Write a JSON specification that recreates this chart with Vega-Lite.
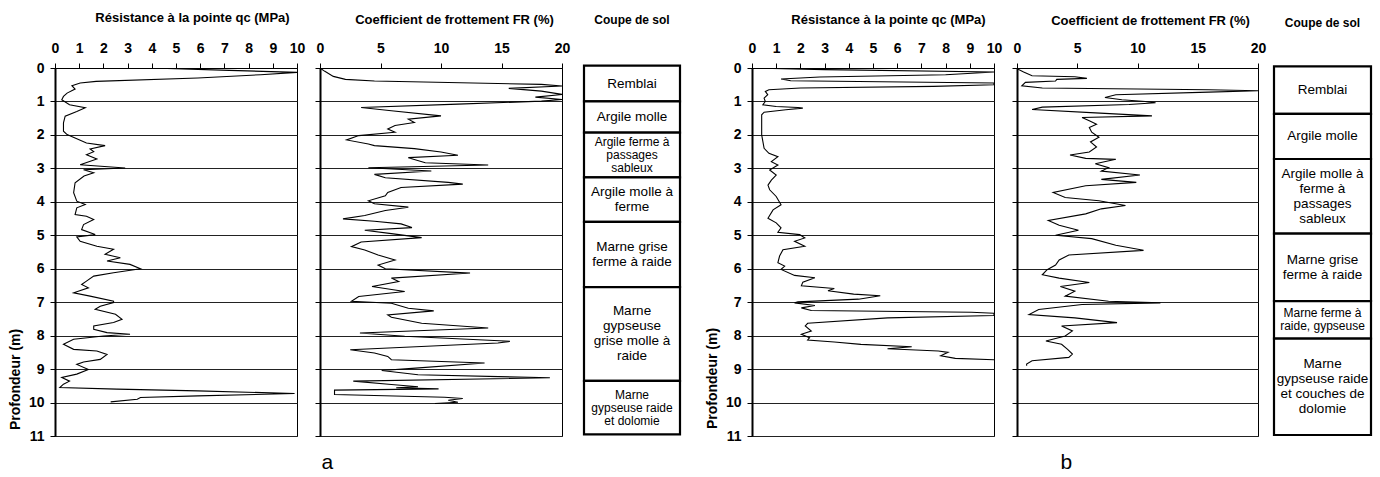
{
  "$schema": "https://vega.github.io/schema/vega-lite/v6.json",
  "background": "white",
  "padding": {"left": 7, "top": 10, "right": 2, "bottom": 2},
  "config": {
    "font": "Liberation Sans",
    "view": {"stroke": "black", "strokeWidth": 1},
    "axis": {"labelFont": "Liberation Sans", "labelFontWeight": "bold", "labelFontSize": 14, "labelColor": "black", "labelFlush": false, "labelOverlap": false, "tickColor": "black", "domainColor": "black", "titleColor": "black", "titleFont": "Liberation Sans", "titleFontWeight": "bold", "titleFontSize": 13, "tickSize": 5},
    "title": {"font": "Liberation Sans", "color": "black"}
  },
  "datasets": {
    "qcA": [
      {"d":0,"v":4.0},{"d":0.07,"v":7.2},{"d":0.13,"v":10},{"d":0.2,"v":8.5},{"d":0.3,"v":5.9},{"d":0.4,"v":1.7},{"d":0.45,"v":1.04},{"d":0.53,"v":0.7},{"d":0.63,"v":0.83},{"d":0.75,"v":0.5},{"d":0.85,"v":0.35},{"d":0.95,"v":0.28},{"d":1.1,"v":0.6},{"d":1.19,"v":1.25},{"d":1.3,"v":0.9},{"d":1.44,"v":0.42},{"d":1.64,"v":0.35},{"d":1.89,"v":0.35},{"d":1.99,"v":0.5},{"d":2.09,"v":0.83},{"d":2.24,"v":1.3},{"d":2.32,"v":2.07},{"d":2.42,"v":1.45},{"d":2.5,"v":1.6},{"d":2.59,"v":1.3},{"d":2.72,"v":1.73},{"d":2.89,"v":1.04},{"d":2.99,"v":2.9},{"d":3.04,"v":1.18},{"d":3.13,"v":1.6},{"d":3.23,"v":1.2},{"d":3.43,"v":0.83},{"d":3.73,"v":0.77},{"d":3.98,"v":0.9},{"d":4.08,"v":1.25},{"d":4.18,"v":0.9},{"d":4.38,"v":0.83},{"d":4.43,"v":1.3},{"d":4.53,"v":1.6},{"d":4.68,"v":1.18},{"d":4.83,"v":1.1},{"d":4.98,"v":1.66},{"d":5.05,"v":0.9},{"d":5.18,"v":1.04},{"d":5.33,"v":1.73},{"d":5.42,"v":2.42},{"d":5.57,"v":2.07},{"d":5.67,"v":2.7},{"d":5.77,"v":2.15},{"d":5.87,"v":3.1},{"d":6.0,"v":3.53},{"d":6.12,"v":2.42},{"d":6.22,"v":1.6},{"d":6.37,"v":1.3},{"d":6.47,"v":1.1},{"d":6.57,"v":1.38},{"d":6.72,"v":0.77},{"d":6.82,"v":1.45},{"d":6.97,"v":2.42},{"d":7.01,"v":2.42},{"d":7.12,"v":1.87},{"d":7.21,"v":1.66},{"d":7.36,"v":2.5},{"d":7.51,"v":2.77},{"d":7.61,"v":2.42},{"d":7.71,"v":1.6},{"d":7.81,"v":1.6},{"d":7.91,"v":2.15},{"d":7.96,"v":3.1},{"d":8.01,"v":2.0},{"d":8.11,"v":0.77},{"d":8.26,"v":0.35},{"d":8.41,"v":0.77},{"d":8.46,"v":1.73},{"d":8.56,"v":2.15},{"d":8.71,"v":1.87},{"d":8.79,"v":1.18},{"d":8.86,"v":0.9},{"d":9.01,"v":1.38},{"d":9.15,"v":0.9},{"d":9.25,"v":0.28},{"d":9.36,"v":0.6},{"d":9.45,"v":0.35},{"d":9.55,"v":0.2},{"d":9.6,"v":2.56},{"d":9.65,"v":5.9},{"d":9.73,"v":9.9},{"d":9.8,"v":5.9},{"d":9.85,"v":3.53},{"d":9.9,"v":3.4},{"d":9.98,"v":2.3}
    ],
    "frA": [
      {"d":0,"v":0},{"d":0.1,"v":0.4},{"d":0.25,"v":1.1},{"d":0.34,"v":2.1},{"d":0.39,"v":4.5},{"d":0.49,"v":18.3},{"d":0.54,"v":20},{"d":0.61,"v":15.6},{"d":0.69,"v":18.3},{"d":0.79,"v":20},{"d":0.87,"v":17.8},{"d":0.94,"v":20},{"d":0.99,"v":18.3},{"d":1.08,"v":11.4},{"d":1.18,"v":3.4},{"d":1.28,"v":5.9},{"d":1.43,"v":10},{"d":1.53,"v":7.3},{"d":1.63,"v":7.8},{"d":1.72,"v":6.2},{"d":1.82,"v":5.6},{"d":1.92,"v":6.2},{"d":2.02,"v":3.2},{"d":2.15,"v":2.2},{"d":2.27,"v":4},{"d":2.32,"v":4.5},{"d":2.41,"v":7.8},{"d":2.51,"v":10},{"d":2.61,"v":11.4},{"d":2.68,"v":7.3},{"d":2.83,"v":8.7},{"d":2.9,"v":13.9},{"d":2.98,"v":4},{"d":3.08,"v":9.2},{"d":3.18,"v":4.5},{"d":3.28,"v":5.4},{"d":3.42,"v":10.6},{"d":3.47,"v":11.8},{"d":3.57,"v":6.7},{"d":3.72,"v":5.6},{"d":3.82,"v":5.4},{"d":3.97,"v":4},{"d":4.06,"v":4.5},{"d":4.16,"v":7.3},{"d":4.26,"v":5.4},{"d":4.41,"v":3.7},{"d":4.51,"v":1.9},{"d":4.58,"v":4.5},{"d":4.66,"v":6.7},{"d":4.77,"v":7.6},{"d":4.85,"v":3.7},{"d":4.95,"v":5.9},{"d":5.07,"v":8.4},{"d":5.2,"v":3.4},{"d":5.34,"v":2.6},{"d":5.44,"v":3.7},{"d":5.59,"v":4.8},{"d":5.74,"v":6.2},{"d":5.89,"v":4.8},{"d":6.0,"v":5.4},{"d":6.13,"v":12.4},{"d":6.28,"v":5.9},{"d":6.38,"v":6.5},{"d":6.53,"v":4.3},{"d":6.68,"v":7.0},{"d":6.83,"v":3.2},{"d":6.97,"v":2.6},{"d":7.03,"v":5.9},{"d":7.18,"v":7.3},{"d":7.26,"v":9.4},{"d":7.38,"v":5.6},{"d":7.45,"v":5.9},{"d":7.63,"v":8.4},{"d":7.77,"v":13.9},{"d":7.92,"v":3.3},{"d":8.02,"v":7.0},{"d":8.17,"v":15.7},{"d":8.22,"v":14.7},{"d":8.42,"v":2.5},{"d":8.52,"v":4.5},{"d":8.62,"v":5.6},{"d":8.72,"v":5.9},{"d":8.82,"v":13.6},{"d":8.97,"v":7.9},{"d":9.04,"v":5.1},{"d":9.17,"v":8.1},{"d":9.26,"v":19},{"d":9.36,"v":2.75},{"d":9.46,"v":5.9},{"d":9.53,"v":8.1},{"d":9.56,"v":6.3},{"d":9.59,"v":9.8},{"d":9.63,"v":1.2},{"d":9.76,"v":1.2},{"d":9.84,"v":10.3},{"d":9.88,"v":11.8},{"d":9.93,"v":10.6},{"d":9.99,"v":11.4},{"d":10.03,"v":9.5}
    ],
    "qcB": [
      {"d":0,"v":0},{"d":0.05,"v":3.0},{"d":0.12,"v":10},{"d":0.2,"v":8},{"d":0.27,"v":2.8},{"d":0.33,"v":1.2},{"d":0.38,"v":1.6},{"d":0.45,"v":10},{"d":0.5,"v":10},{"d":0.55,"v":7.5},{"d":0.6,"v":2.0},{"d":0.65,"v":0.7},{"d":0.7,"v":0.55},{"d":0.8,"v":0.65},{"d":0.9,"v":0.5},{"d":1.0,"v":0.55},{"d":1.1,"v":0.45},{"d":1.15,"v":1.0},{"d":1.18,"v":1.9},{"d":1.2,"v":2.1},{"d":1.25,"v":1.4},{"d":1.32,"v":0.5},{"d":1.4,"v":0.4},{"d":1.6,"v":0.4},{"d":2.0,"v":0.4},{"d":2.4,"v":0.5},{"d":2.55,"v":0.7},{"d":2.65,"v":1.07},{"d":2.8,"v":0.8},{"d":2.9,"v":1.07},{"d":3.05,"v":0.73},{"d":3.2,"v":1.0},{"d":3.35,"v":0.8},{"d":3.5,"v":0.66},{"d":3.64,"v":0.73},{"d":3.84,"v":1.0},{"d":4.09,"v":1.2},{"d":4.24,"v":0.87},{"d":4.49,"v":0.66},{"d":4.63,"v":1.0},{"d":4.78,"v":1.2},{"d":4.91,"v":1.07},{"d":4.98,"v":1.97},{"d":5.08,"v":2.18},{"d":5.18,"v":1.76},{"d":5.33,"v":2.18},{"d":5.43,"v":1.28},{"d":5.62,"v":1.14},{"d":5.82,"v":1.07},{"d":5.92,"v":1.35},{"d":6.02,"v":1.2},{"d":6.2,"v":1.76},{"d":6.27,"v":2.6},{"d":6.4,"v":2.1},{"d":6.51,"v":2.04},{"d":6.59,"v":3.4},{"d":6.66,"v":3.14},{"d":6.76,"v":4.2},{"d":6.81,"v":5.3},{"d":6.91,"v":4.4},{"d":6.99,"v":1.9},{"d":7.02,"v":1.76},{"d":7.1,"v":2.6},{"d":7.17,"v":2.04},{"d":7.25,"v":2.45},{"d":7.3,"v":9.06},{"d":7.33,"v":10},{"d":7.4,"v":10},{"d":7.47,"v":5.6},{"d":7.63,"v":2.3},{"d":7.71,"v":2.2},{"d":7.86,"v":2.45},{"d":7.96,"v":2.04},{"d":8.06,"v":2.38},{"d":8.13,"v":2.3},{"d":8.19,"v":3.4},{"d":8.26,"v":4.5},{"d":8.33,"v":6.6},{"d":8.39,"v":5.6},{"d":8.46,"v":7.7},{"d":8.5,"v":8.1},{"d":8.6,"v":7.8},{"d":8.68,"v":8.4},{"d":8.72,"v":10}
    ],
    "frB": [
      {"d":0.02,"v":0},{"d":0.12,"v":0.55},{"d":0.23,"v":1.25},{"d":0.26,"v":4.8},{"d":0.31,"v":5.8},{"d":0.34,"v":3.3},{"d":0.39,"v":3.2},{"d":0.43,"v":0.7},{"d":0.53,"v":0.4},{"d":0.6,"v":2.1},{"d":0.65,"v":15.9},{"d":0.68,"v":20},{"d":0.72,"v":15.9},{"d":0.8,"v":8.2},{"d":0.88,"v":7.3},{"d":0.95,"v":8.7},{"d":1.0,"v":10.65},{"d":1.04,"v":11.5},{"d":1.09,"v":9.3},{"d":1.17,"v":2.1},{"d":1.24,"v":1.25},{"d":1.34,"v":6.5},{"d":1.43,"v":11.2},{"d":1.48,"v":5.4},{"d":1.58,"v":6.0},{"d":1.68,"v":6.6},{"d":1.78,"v":6.0},{"d":1.92,"v":6.2},{"d":2.07,"v":6.8},{"d":2.21,"v":6.1},{"d":2.36,"v":6.6},{"d":2.51,"v":6.0},{"d":2.6,"v":4.4},{"d":2.7,"v":5.7},{"d":2.73,"v":8.2},{"d":2.86,"v":6.5},{"d":2.98,"v":7.6},{"d":3.08,"v":7.0},{"d":3.2,"v":10.2},{"d":3.33,"v":7.0},{"d":3.42,"v":9.9},{"d":3.52,"v":5.7},{"d":3.72,"v":3.0},{"d":3.87,"v":4.0},{"d":3.97,"v":6.8},{"d":4.11,"v":9.0},{"d":4.21,"v":7.0},{"d":4.36,"v":5.7},{"d":4.56,"v":2.6},{"d":4.7,"v":3.5},{"d":4.85,"v":5.1},{"d":5.0,"v":3.2},{"d":5.1,"v":6.2},{"d":5.3,"v":8.2},{"d":5.45,"v":10.5},{"d":5.59,"v":4.3},{"d":5.74,"v":3.5},{"d":5.89,"v":3.2},{"d":6.03,"v":2.5},{"d":6.18,"v":2.1},{"d":6.28,"v":3.5},{"d":6.41,"v":6.0},{"d":6.53,"v":3.6},{"d":6.67,"v":4.8},{"d":6.82,"v":4.0},{"d":6.97,"v":7.6},{"d":7.02,"v":11.9},{"d":7.07,"v":5.4},{"d":7.22,"v":1.8},{"d":7.37,"v":1.0},{"d":7.47,"v":4.8},{"d":7.61,"v":8.3},{"d":7.71,"v":3.7},{"d":7.86,"v":4.6},{"d":8.01,"v":4.0},{"d":8.16,"v":2.4},{"d":8.26,"v":3.7},{"d":8.41,"v":4.2},{"d":8.55,"v":4.6},{"d":8.65,"v":4.3},{"d":8.75,"v":1.25},{"d":8.85,"v":0.8},{"d":8.9,"v":0.8}
    ],
    "soilA": [
      {"top":-0.07,"bot":1.0,"label":"Remblai"},
      {"top":1.0,"bot":1.93,"label":"Argile molle"},
      {"top":1.93,"bot":3.27,"label":"Argile ferme à\npassages\nsableux"},
      {"top":3.27,"bot":4.6,"label":"Argile molle à\nferme"},
      {"top":4.6,"bot":6.55,"label":"Marne grise\nferme à raide"},
      {"top":6.55,"bot":9.35,"label":"Marne\ngypseuse\ngrise molle à\nraide"},
      {"top":9.35,"bot":10.95,"label":"Marne\ngypseuse raide\net dolomie"}
    ],
    "soilB": [
      {"top":-0.05,"bot":1.37,"label":"Remblai"},
      {"top":1.37,"bot":2.72,"label":"Argile molle"},
      {"top":2.72,"bot":4.95,"label":"Argile molle à\nferme à\npassages\nsableux"},
      {"top":4.95,"bot":6.97,"label":"Marne grise\nferme à raide"},
      {"top":6.97,"bot":8.09,"label":"Marne ferme à\nraide, gypseuse"},
      {"top":8.09,"bot":10.97,"label":"Marne\ngypseuse raide\net couches de\ndolomie"}
    ]
  },
  "hconcat": [
    {
      "title": {"text": "a", "orient": "bottom", "anchor": "middle", "dx": -17, "offset": 8, "fontSize": 21, "fontWeight": "normal"},
      "hconcat": [
        {
          "hconcat": [
            {
              "width": 242, "height": 368,
              "data": {"name": "qcA"},
              "mark": {"type": "line", "color": "black", "strokeWidth": 1.1, "clip": true},
              "encoding": {
                "x": {"field": "v", "type": "quantitative", "scale": {"domain": [0, 10], "nice": false}, "axis": {"orient": "top", "values": [0,1,2,3,4,5,6,7,8,9,10], "grid": false, "labelPadding": 8, "title": "Résistance à la pointe qc (MPa)", "titleX": 137, "titleY": -51, "titleAlign": "center", "titleBaseline": "middle"}},
                "y": {"field": "d", "type": "quantitative", "scale": {"domain": [0, 11], "reverse": true, "nice": false}, "axis": {"values": [0,1,2,3,4,5,6,7,8,9,10,11], "grid": true, "gridColor": "#222", "domainWidth": 2, "labelPadding": 6, "title": "Profondeur (m)", "titleFontSize": 14, "titleX": -40, "titleY": 311, "titleAngle": -90, "titleAlign": "center", "titleBaseline": "middle"}},
                "order": {"field": "d", "type": "quantitative"}
              }
            },
            {
              "width": 242, "height": 368,
              "data": {"name": "frA"},
              "mark": {"type": "line", "color": "black", "strokeWidth": 1.1, "clip": true},
              "encoding": {
                "x": {"field": "v", "type": "quantitative", "scale": {"domain": [0, 20], "nice": false}, "axis": {"orient": "top", "values": [0,5,10,15,20], "grid": false, "labelPadding": 8, "title": "Coefficient de frottement FR (%)", "titleX": 134, "titleY": -49, "titleAlign": "center", "titleBaseline": "middle"}},
                "y": {"field": "d", "type": "quantitative", "scale": {"domain": [0, 11], "reverse": true, "nice": false}, "axis": {"values": [0,1,2,3,4,5,6,7,8,9,10,11], "grid": true, "gridColor": "#222", "domainWidth": 2, "labels": false, "title": null}},
                "order": {"field": "d", "type": "quantitative"}
              }
            }
          ],
          "spacing": 8,
          "bounds": "full"
        },
        {
          "width": 96, "height": 368,
          "title": {"text": "Coupe de sol", "fontSize": 12, "fontWeight": "bold", "offset": 38},
          "view": {"stroke": null},
          "data": {"name": "soilA"},
          "layer": [
            {
              "mark": {"type": "rect", "fill": "white", "stroke": "black", "strokeWidth": 2.2},
              "encoding": {
                "x": {"datum": 0, "type": "quantitative", "scale": {"domain": [0, 1]}, "axis": null},
                "x2": {"datum": 1},
                "y": {"field": "top", "type": "quantitative", "scale": {"domain": [0, 11], "reverse": true, "nice": false}, "axis": null},
                "y2": {"field": "bot"}
              }
            },
            {
              "transform": [
                {"filter": {"not": {"field": "label", "oneOf": ["Argile ferme à\npassages\nsableux", "Marne\ngypseuse raide\net dolomie"]}}},
                {"calculate": "(datum.top + datum.bot) / 2 - (split(datum.label, '\\n').length - 1) * 0.224", "as": "mid"}
              ],
              "mark": {"type": "text", "fontSize": 13.5, "lineHeight": 15, "lineBreak": "\n", "align": "center", "baseline": "middle", "color": "black"},
              "encoding": {
                "x": {"datum": 0.5, "type": "quantitative"},
                "y": {"field": "mid", "type": "quantitative"},
                "text": {"field": "label"}
              }
            },
            {
              "transform": [
                {"filter": {"field": "label", "oneOf": ["Argile ferme à\npassages\nsableux", "Marne\ngypseuse raide\net dolomie"]}},
                {"calculate": "(datum.top + datum.bot) / 2 - (split(datum.label, '\\n').length - 1) * 0.194", "as": "mid"}
              ],
              "mark": {"type": "text", "fontSize": 12, "lineHeight": 13, "lineBreak": "\n", "align": "center", "baseline": "middle", "color": "black"},
              "encoding": {
                "x": {"datum": 0.5, "type": "quantitative"},
                "y": {"field": "mid", "type": "quantitative"},
                "text": {"field": "label"}
              }
            }
          ]
        }
      ],
      "spacing": 11,
      "bounds": "full"
    },
    {
      "title": {"text": "b", "orient": "bottom", "anchor": "middle", "dx": 28, "offset": 8, "fontSize": 21, "fontWeight": "normal"},
      "hconcat": [
        {
          "hconcat": [
            {
              "width": 242, "height": 368,
              "data": {"name": "qcB"},
              "mark": {"type": "line", "color": "black", "strokeWidth": 1.1, "clip": true},
              "encoding": {
                "x": {"field": "v", "type": "quantitative", "scale": {"domain": [0, 10], "nice": false}, "axis": {"orient": "top", "values": [0,1,2,3,4,5,6,7,8,9,10], "grid": false, "labelPadding": 8, "title": "Résistance à la pointe qc (MPa)", "titleX": 136, "titleY": -49, "titleAlign": "center", "titleBaseline": "middle"}},
                "y": {"field": "d", "type": "quantitative", "scale": {"domain": [0, 11], "reverse": true, "nice": false}, "axis": {"values": [0,1,2,3,4,5,6,7,8,9,10,11], "grid": true, "gridColor": "#222", "domainWidth": 2, "labelPadding": 6, "title": "Profondeur (m)", "titleFontSize": 14, "titleX": -40, "titleY": 310, "titleAngle": -90, "titleAlign": "center", "titleBaseline": "middle"}},
                "order": {"field": "d", "type": "quantitative"}
              }
            },
            {
              "width": 241, "height": 368,
              "data": {"name": "frB"},
              "mark": {"type": "line", "color": "black", "strokeWidth": 1.1, "clip": true},
              "encoding": {
                "x": {"field": "v", "type": "quantitative", "scale": {"domain": [0, 20], "nice": false}, "axis": {"orient": "top", "values": [0,5,10,15,20], "grid": false, "labelPadding": 8, "title": "Coefficient de frottement FR (%)", "titleX": 133, "titleY": -48, "titleAlign": "center", "titleBaseline": "middle"}},
                "y": {"field": "d", "type": "quantitative", "scale": {"domain": [0, 11], "reverse": true, "nice": false}, "axis": {"values": [0,1,2,3,4,5,6,7,8,9,10,11], "grid": true, "gridColor": "#222", "domainWidth": 2, "labels": false, "title": null}},
                "order": {"field": "d", "type": "quantitative"}
              }
            }
          ],
          "spacing": 8,
          "bounds": "full"
        },
        {
          "width": 97, "height": 368,
          "title": {"text": "Coupe de sol", "fontSize": 12, "fontWeight": "bold", "offset": 35},
          "view": {"stroke": null},
          "data": {"name": "soilB"},
          "layer": [
            {
              "mark": {"type": "rect", "fill": "white", "stroke": "black", "strokeWidth": 2.2},
              "encoding": {
                "x": {"datum": 0, "type": "quantitative", "scale": {"domain": [0, 1]}, "axis": null},
                "x2": {"datum": 1},
                "y": {"field": "top", "type": "quantitative", "scale": {"domain": [0, 11], "reverse": true, "nice": false}, "axis": null},
                "y2": {"field": "bot"}
              }
            },
            {
              "transform": [
                {"filter": {"not": {"field": "label", "oneOf": ["Marne ferme à\nraide, gypseuse"]}}},
                {"calculate": "(datum.top + datum.bot) / 2 - (split(datum.label, '\\n').length - 1) * 0.224", "as": "mid"}
              ],
              "mark": {"type": "text", "fontSize": 13.5, "lineHeight": 15, "lineBreak": "\n", "align": "center", "baseline": "middle", "color": "black"},
              "encoding": {
                "x": {"datum": 0.5, "type": "quantitative"},
                "y": {"field": "mid", "type": "quantitative"},
                "text": {"field": "label"}
              }
            },
            {
              "transform": [
                {"filter": {"field": "label", "oneOf": ["Marne ferme à\nraide, gypseuse"]}},
                {"calculate": "(datum.top + datum.bot) / 2 - (split(datum.label, '\\n').length - 1) * 0.194", "as": "mid"}
              ],
              "mark": {"type": "text", "fontSize": 12, "lineHeight": 13, "lineBreak": "\n", "align": "center", "baseline": "middle", "color": "black"},
              "encoding": {
                "x": {"datum": 0.5, "type": "quantitative"},
                "y": {"field": "mid", "type": "quantitative"},
                "text": {"field": "label"}
              }
            }
          ]
        }
      ],
      "spacing": 5,
      "bounds": "full"
    }
  ],
  "spacing": 22,
  "bounds": "full"
}
